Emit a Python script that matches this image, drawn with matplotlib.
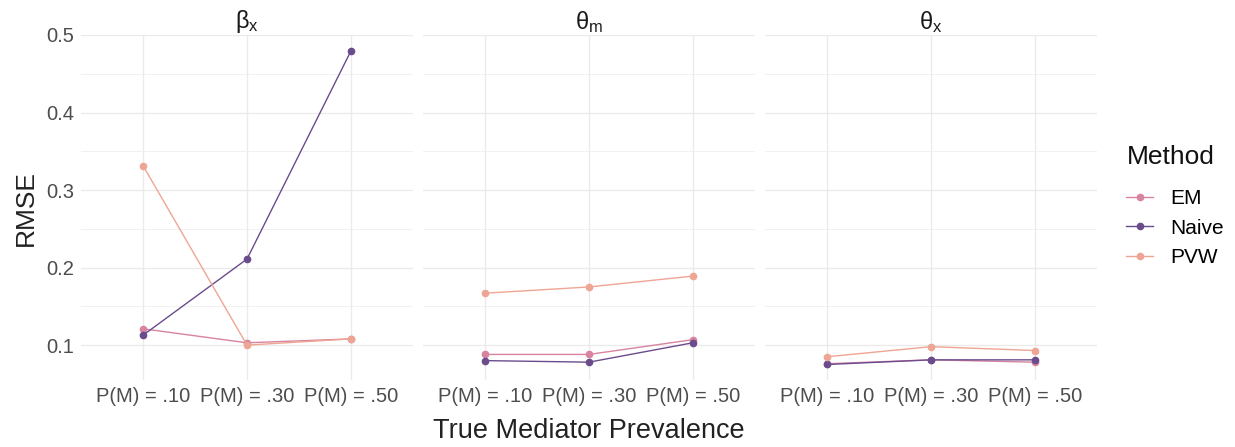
import matplotlib.pyplot as plt
import numpy as np

plt.rcParams['font.family'] = ['Liberation Sans', 'DejaVu Sans']
plt.rcParams['mathtext.fontset'] = 'custom'
plt.rcParams['mathtext.rm'] = 'Liberation Sans'
plt.rcParams['mathtext.it'] = 'Liberation Sans'

categories = ['P(M) = .10', 'P(M) = .30', 'P(M) = .50']
panels = [r'$\beta_\mathrm{x}$', r'$\theta_\mathrm{m}$', r'$\theta_\mathrm{x}$']
methods = ['EM', 'Naive', 'PVW']
colors = {'EM': '#D8839F', 'Naive': '#6A4C8C', 'PVW': '#EFA593'}

# rmse per panel, per method
em_vals = [[0.121, 0.103, 0.108], [0.088, 0.088, 0.107], [0.076, 0.081, 0.078]]
naive_vals = [[0.113, 0.211, 0.479], [0.080, 0.078, 0.103], [0.075, 0.081, 0.081]]
pvw_vals = [[0.331, 0.100, 0.108], [0.167, 0.175, 0.189], [0.085, 0.098, 0.093]]
data = {'EM': em_vals, 'Naive': naive_vals, 'PVW': pvw_vals}

fig = plt.figure(figsize=(12.35, 4.47), dpi=100)
lefts = [81, 423, 765]
width = 332
x = np.arange(1, 4)
for i, title in enumerate(panels):
    ax = fig.add_axes([lefts[i] / 1235, 1 - 380 / 447, width / 1235, 345 / 447])
    for m in methods:
        ax.plot(x, data[m][i], '-o', color=colors[m], lw=1, ms=4.5, label=m)
    ax.set_xlim(0.4, 3.6)
    ax.set_ylim(0.055, 0.5)
    ax.set_yticks([0.1, 0.2, 0.3, 0.4, 0.5])
    ax.set_yticks([0.15, 0.25, 0.35, 0.45], minor=True)
    ax.set_xticks(x)
    ax.set_xticklabels(categories)
    ax.grid(which='major', color='#EBEBEB', lw=1.0)
    ax.grid(which='minor', axis='y', color='#EFEFEF', lw=0.6)
    ax.set_axisbelow(True)
    for s in ax.spines.values():
        s.set_visible(False)
    ax.tick_params(which='both', length=0, labelsize=14.5, colors='#4D4D4D', pad=5)
    if i > 0:
        ax.set_yticklabels([])
    else:
        ax.set_ylabel('RMSE', fontsize=19, color='#222222', labelpad=6)
    if i == 1:
        ax.set_xlabel('True Mediator Prevalence', fontsize=19.5, color='#222222', labelpad=9)
    ax.set_title(title, fontsize=17, color='#1A1A1A', pad=3)

# legend: title drawn separately so the gap matches
fig.text(1127 / 1235, 1 - 157 / 447, 'Method', fontsize=19, color='#111111',
         ha='left', va='center')
handles, labels = ax.get_legend_handles_labels()
leg = fig.legend(handles, labels, loc='center left',
                 bbox_to_anchor=(1126 / 1235, 1 - 228 / 447), frameon=False,
                 fontsize=15, handlelength=1.3, handletextpad=0.8,
                 labelspacing=0.5, borderpad=0, borderaxespad=0)

plt.savefig('out.png', dpi=100)
